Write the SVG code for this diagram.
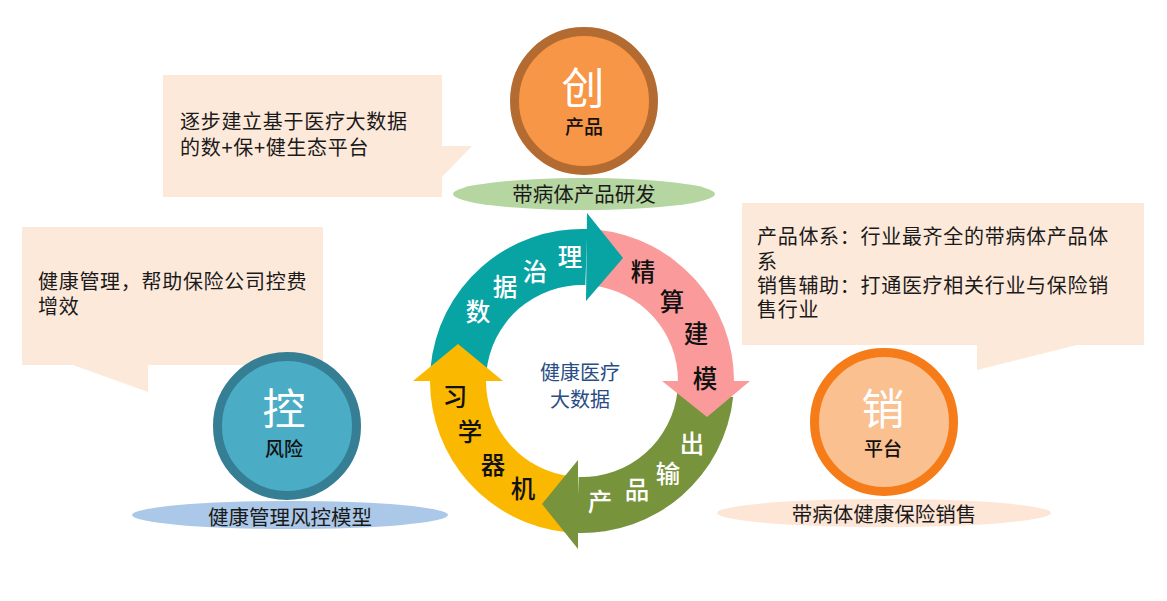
<svg xmlns="http://www.w3.org/2000/svg" width="1167" height="601" viewBox="0 0 1167 601">
<style>
text{font-family:"Noto Sans CJK SC","Noto Sans",sans-serif;}
.call{fill:#FDE9DA;}
.ct{font-size:20px;fill:#1a1a1a;letter-spacing:0.7px;}
.big{font-size:43px;fill:#ffffff;text-anchor:middle;}
.sub{font-size:19px;fill:#111;text-anchor:middle;font-weight:500;}
.el{font-size:20.5px;fill:#1a1a1a;text-anchor:middle;}
.rw{font-size:24.5px;fill:#ffffff;text-anchor:middle;dominant-baseline:central;font-weight:500;}
.rb{font-size:24.5px;fill:#111;text-anchor:middle;dominant-baseline:central;font-weight:500;}
.mid{font-size:20px;fill:#2A4C85;text-anchor:middle;}
</style>
<rect width="1167" height="601" fill="#ffffff"/>

<g id="callout-top">
<path class="call" d="M163,75 H442 V146 L472,146 L442,177 V197 H163 Z"/>
<text class="ct" x="180" y="129">逐步建立基于医疗大数据</text>
<text class="ct" x="180" y="155">的数+保+健生态平台</text>
</g>

<g id="callout-left">
<path class="call" d="M22,227 H323 V365 H148 V392 L73,365 H22 Z"/>
<text class="ct" x="38" y="289">健康管理，帮助保险公司控费</text>
<text class="ct" x="38" y="314">增效</text>
</g>

<g id="callout-right">
<path class="call" d="M742,203 H1144 V345 H1077 L977,370 V345 H742 Z"/>
<text class="ct" x="757" y="244">产品体系：行业最齐全的带病体产品体</text>
<text class="ct" x="757" y="269">系</text>
<text class="ct" x="757" y="293">销售辅助：打通医疗相关行业与保险销</text>
<text class="ct" x="757" y="317">售行业</text>
</g>

<g id="node-chuang">
<circle cx="584" cy="101" r="69.5" fill="#F79646" stroke="#B46B31" stroke-width="9"/>
<text class="big" x="583" y="104">创</text>
<text class="sub" x="584" y="134">产品</text>
<ellipse cx="584" cy="194" rx="131" ry="16" fill="#B5D6A0"/>
<text class="el" x="584" y="202">带病体产品研发</text>
</g>

<g id="node-kong">
<circle cx="287" cy="426" r="69.5" fill="#4BACC6" stroke="#357E93" stroke-width="9"/>
<text class="big" x="284" y="425">控</text>
<text class="sub" x="284" y="456">风险</text>
<ellipse cx="290" cy="515" rx="158" ry="14" fill="#ABC8E8"/>
<text class="el" x="290" y="525">健康管理风控模型</text>
</g>

<g id="node-xiao">
<circle cx="884" cy="422" r="69.5" fill="#FAC08F" stroke="#F57C18" stroke-width="9"/>
<text class="big" x="883" y="425">销</text>
<text class="sub" x="883" y="456">平台</text>
<ellipse cx="884" cy="513" rx="167" ry="14" fill="#FDE6D6"/>
<text class="el" x="884" y="522">带病体健康保险销售</text>
</g>

<g id="connectors">
<path fill="#08A3A3" d="M430.58,367.75 A152,152 0 0 1 587.30,229.09 L585.35,285.06 A96,96 0 0 0 486.37,372.63 Z"/>
<path fill="#FA9A9A" d="M597.89,229.83 A152,152 0 0 1 734,381 L678,381 A96,96 0 0 0 592.03,285.53 Z"/>
<path fill="#77933C" d="M733.17,396.89 A152,152 0 0 1 576.70,532.91 L578.65,476.94 A96,96 0 0 0 677.47,391.03 Z"/>
<path fill="#FBB800" d="M566.11,532.17 A152,152 0 0 1 430,381 L486,381 A96,96 0 0 0 571.97,476.47 Z"/>
<polygon fill="#08A3A3" points="587,213 623,258 586,301"/>
<polygon fill="#FA9A9A" points="662,381 750,381 707,417"/>
<polygon fill="#77933C" points="578,460 578,549 542,504"/>
<polygon fill="#FBB800" points="413,381 503,381 458,344"/>
</g>

<g id="ring-labels">
<text class="rw" x="478" y="310">数</text>
<text class="rw" x="505" y="285">据</text>
<text class="rw" x="535" y="270">治</text>
<text class="rw" x="570" y="255">理</text>
<text class="rb" x="643" y="270">精</text>
<text class="rb" x="672" y="300">算</text>
<text class="rb" x="696" y="332">建</text>
<text class="rb" x="705" y="377">模</text>
<text class="rw" x="692" y="442">出</text>
<text class="rw" x="668" y="472">输</text>
<text class="rw" x="637" y="488">品</text>
<text class="rw" x="600" y="500">产</text>
<text class="rb" x="523" y="487">机</text>
<text class="rb" x="493" y="463">器</text>
<text class="rb" x="470" y="430">学</text>
<text class="rb" x="455" y="395">习</text>
</g>

<g id="center">
<text class="mid" x="580" y="380">健康医疗</text>
<text class="mid" x="580" y="407">大数据</text>
</g>
</svg>
